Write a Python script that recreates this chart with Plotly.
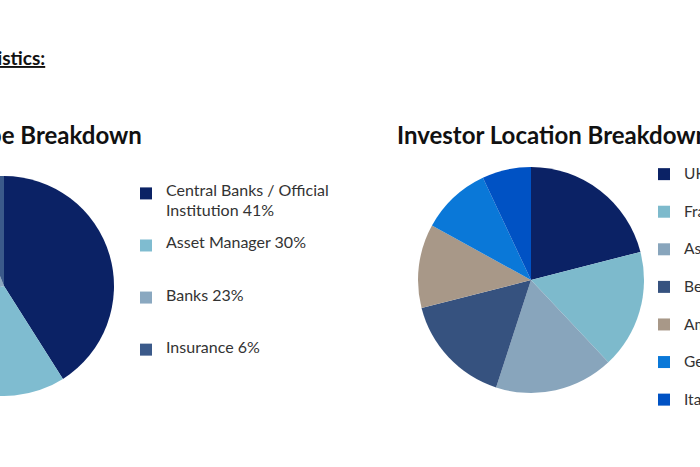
import plotly.graph_objects as go

# investor type breakdown (left pie)
type_labels = ['Central Banks / Official Institution', 'Asset Manager', 'Banks', 'Insurance']
type_values = [41, 30, 23, 6]
type_colors = ['#0b2265', '#7fbcd0', '#8aa8c0', '#3b5a8a']

# investor location breakdown (right pie)
loc_labels = ['UK', 'France', 'Asia', 'Benelux', 'Americas', 'Germany', 'Italy']
loc_values = [21, 17, 17, 16, 12, 10, 7]
loc_colors = ['#0b2265', '#7dbacc', '#88a5bc', '#36527f', '#a89888', '#0a78d8', '#0052c4']

# the page only shows a window of a wider slide, shifted left
W = 1000
H = 467
SHIFT = 240

font = 'Lato, "Open Sans", Arial, sans-serif'


def entry(lines, size, total):
    # legend line height comes from the (small) legend font, the label is drawn
    # bigger; blank lines give the entries the spacing of the original slide
    parts = ['<span style="font-size:%spx">%s</span>' % (size, t) if t else ' ' for t in lines]
    parts += [' '] * (total - len(parts))
    return '<br>'.join(parts)


type_legend = [entry(['Central Banks / Official', '', 'Institution 41%'], 16, 5),
               entry(['Asset Manager 30%'], 16, 5),
               entry(['Banks 23%'], 16, 5),
               entry(['Insurance 6%'], 16, 5)]
loc_legend = [entry([l], 15.5, 2) for l in loc_labels]

fig = go.Figure()

fig.add_trace(go.Pie(labels=type_legend, values=type_values, sort=False,
                     direction='clockwise', rotation=0, textinfo='none',
                     marker=dict(colors=type_colors, line=dict(color='white', width=0)),
                     domain=dict(x=[134 / W, 354 / W], y=[71 / H, 291 / H]),
                     legend='legend', hoverinfo='percent'))

fig.add_trace(go.Pie(labels=loc_legend, values=loc_values, sort=False,
                     direction='clockwise', rotation=0, textinfo='none',
                     marker=dict(colors=loc_colors, line=dict(color='white', width=0)),
                     domain=dict(x=[658 / W, 884 / W], y=[74 / H, 300 / H]),
                     legend='legend2', hoverinfo='percent'))

fig.update_layout(
    width=W, height=H,
    margin=dict(l=0, r=0, t=0, b=0),
    paper_bgcolor='white',
    font=dict(family=font, color='#222222'),
    showlegend=True,
    legend=dict(x=(SHIFT + 126) / W, y=1 - 182 / H, xanchor='left', yanchor='top',
                valign='top', font=dict(size=7.55, family=font, color='#333333'),
                bgcolor='rgba(0,0,0,0)'),
    legend2=dict(x=(SHIFT + 644) / W, y=1 - 159 / H, xanchor='left', yanchor='top',
                 valign='top', font=dict(size=13.3, family=font, color='#333333'),
                 bgcolor='rgba(0,0,0,0)'),
    annotations=[
        dict(text='<span style="text-decoration:underline"><b>Distribution Statistics:</b></span>',
             x=(SHIFT + 47) / W, y=1 - 57 / H, xref='paper', yref='paper',
             xanchor='right', yanchor='middle', showarrow=False,
             font=dict(size=19, family=font, color='#111111')),
        dict(text='<b>Investor Type Breakdown</b>',
             x=(SHIFT + 144) / W, y=1 - 135 / H, xref='paper', yref='paper',
             xanchor='right', yanchor='middle', showarrow=False,
             font=dict(size=24, family=font, color='#111111')),
        dict(text='<b>Investor Location Breakdown</b>',
             x=(SHIFT + 395) / W, y=1 - 135 / H, xref='paper', yref='paper',
             xanchor='left', yanchor='middle', showarrow=False,
             font=dict(size=24, family=font, color='#111111')),
    ],
)

post = ("document.body.style.margin='0';"
        "document.body.style.overflow='hidden';"
        "var gd=document.getElementById('{plot_id}');"
        "gd.style.marginLeft='-" + str(SHIFT) + "px';")

fig.write_html("out.html", post_script=post)
